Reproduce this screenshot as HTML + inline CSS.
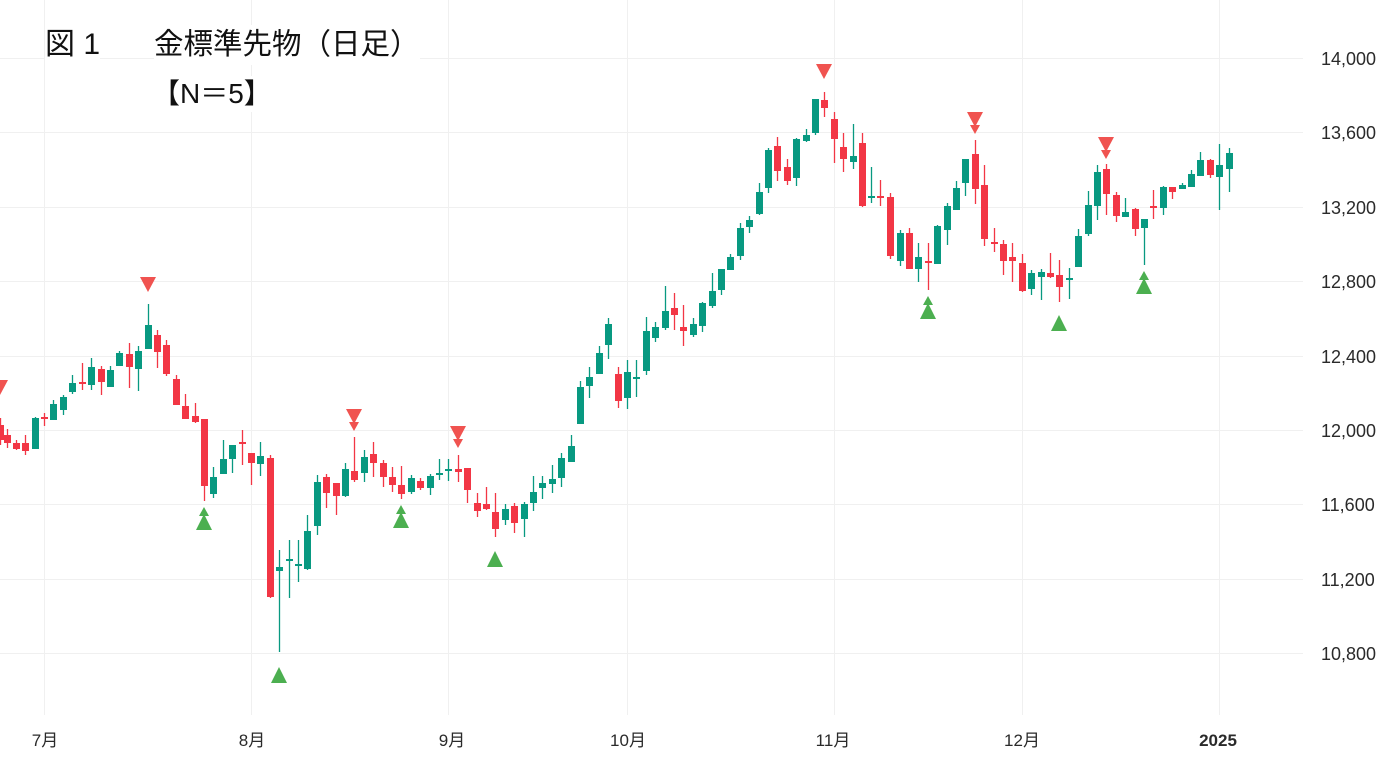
<!DOCTYPE html>
<html><head><meta charset="utf-8"><style>
html,body{margin:0;padding:0;background:#fff;width:1400px;height:761px;overflow:hidden}
svg{position:absolute;left:0;top:0}
.t{position:absolute;font-family:"Liberation Sans","Noto Sans CJK JP",sans-serif;color:#111;background:#fff;white-space:pre}
</style></head><body>
<svg id="s" width="1400" height="761" xmlns="http://www.w3.org/2000/svg">
<g stroke="#f0f0f0" stroke-width="1">
<line x1="0" y1="58.5" x2="1303" y2="58.5"/><line x1="0" y1="132.5" x2="1303" y2="132.5"/><line x1="0" y1="207.5" x2="1303" y2="207.5"/><line x1="0" y1="281.5" x2="1303" y2="281.5"/><line x1="0" y1="356.5" x2="1303" y2="356.5"/><line x1="0" y1="430.5" x2="1303" y2="430.5"/><line x1="0" y1="504.5" x2="1303" y2="504.5"/><line x1="0" y1="579.5" x2="1303" y2="579.5"/><line x1="0" y1="653.5" x2="1303" y2="653.5"/>
<line x1="44.5" y1="0" x2="44.5" y2="715"/><line x1="251.5" y1="0" x2="251.5" y2="715"/><line x1="448.5" y1="0" x2="448.5" y2="715"/><line x1="627.5" y1="0" x2="627.5" y2="715"/><line x1="834.5" y1="0" x2="834.5" y2="715"/><line x1="1022.5" y1="0" x2="1022.5" y2="715"/><line x1="1219.5" y1="0" x2="1219.5" y2="715"/>
</g>
<g font-family="Liberation Sans, DejaVu Sans, sans-serif" font-size="18" fill="#2a2a2a">
<text x="1321" y="65">14,000</text><text x="1321" y="139">13,600</text><text x="1321" y="214">13,200</text><text x="1321" y="288">12,800</text><text x="1321" y="363">12,400</text><text x="1321" y="437">12,000</text><text x="1321" y="511">11,600</text><text x="1321" y="586">11,200</text><text x="1321" y="660">10,800</text>
</g>
<g font-family="Liberation Sans, Noto Sans CJK JP, sans-serif" font-size="17" fill="#2a2a2a" text-anchor="middle">
<text x="45" y="746">7月</text><text x="252" y="746">8月</text><text x="452" y="746">9月</text><text x="628" y="746">10月</text><text x="833" y="746">11月</text><text x="1022" y="746">12月</text><text x="1218" y="746" font-weight="bold">2025</text>
</g>
<g id="c"></g>
</svg>
<div class="t" style="left:45px;top:25px;font-size:30px;line-height:40px">図 1</div>
<div class="t" style="left:154px;top:25px;font-size:29.5px;line-height:40px">金標準先物（日足）</div>
<div class="t" style="left:152px;top:76px;font-size:28px;line-height:36px">【N＝5】</div>
<script>
var d=[
[0,425,440,418,445,0],[7,435,443,429,448,0],[16,443,449,440,450,0],[25,443,451,435,455,0],[35,418,449,417,449,1],[44,417,419,413,426,0],[53,404,420,400,420,1],[63,397,410,395,415,1],[72,383,392,375,394,1],[82,382,384,363,390,0],[91,367,385,358,390,1],[101,369,382,366,395,0],[110,370,387,366,387,1],[119,353,366,351,366,1],[129,354,367,343,388,0],[138,351,369,346,391,1],[148,325,349,304,349,1],[157,335,352,330,368,0],[166,345,374,340,376,0],[176,379,405,375,405,0],[185,406,419,394,419,0],[195,416,422,403,423,0],[204,419,486,419,501,0],[213,477,494,467,498,1],[223,459,474,440,474,1],[232,445,459,445,473,1],[242,442,444,430,465,0],[251,453,463,453,485,0],[260,456,464,442,476,1],[270,458,597,455,598,0],[279,567,571,550,652,1],[289,559,561,540,598,1],[298,564,566,540,582,1],[307,531,569,515,570,1],[317,482,526,475,535,1],[326,477,493,474,508,0],[336,483,496,483,515,0],[345,469,496,463,497,1],[354,471,480,437,482,0],[364,457,473,450,482,1],[373,454,463,442,477,0],[383,463,477,460,487,0],[392,477,485,467,492,0],[401,485,494,466,499,0],[411,478,492,475,494,1],[420,481,488,478,490,0],[430,476,488,474,495,1],[439,473,475,459,480,1],[448,469,471,459,481,1],[458,469,472,455,482,0],[467,468,490,468,503,0],[477,503,511,493,517,0],[486,504,509,487,510,0],[495,512,529,493,537,0],[505,509,520,504,525,1],[514,506,523,503,533,0],[524,504,519,502,537,1],[533,492,503,476,511,1],[542,483,488,476,499,1],[552,479,484,465,493,1],[561,458,478,453,487,1],[571,446,462,435,462,1],[580,387,424,381,424,1],[589,377,386,367,398,1],[599,353,374,346,374,1],[608,324,345,318,359,1],[618,374,401,367,408,0],[627,372,398,360,409,1],[636,377,379,360,397,1],[646,331,371,317,375,1],[655,327,338,322,342,1],[665,311,328,286,330,1],[674,308,315,293,330,0],[683,327,331,305,346,0],[693,324,335,318,337,1],[702,303,326,302,332,1],[712,291,306,273,308,1],[721,269,290,269,295,1],[730,257,270,254,270,1],[740,228,256,223,260,1],[749,220,227,216,233,1],[759,192,214,183,215,1],[768,150,188,148,193,1],[777,146,171,137,181,0],[787,167,181,159,185,0],[796,139,178,138,186,1],[806,135,141,129,142,1],[815,99,133,99,135,1],[824,100,108,92,117,0],[834,119,139,112,163,0],[843,147,159,133,172,0],[853,156,162,124,169,1],[862,143,206,133,207,0],[871,196,198,167,203,1],[880,196,198,180,206,0],[890,197,256,193,259,0],[900,233,261,230,266,1],[909,233,269,228,269,0],[918,257,269,243,282,1],[928,261,263,243,290,0],[937,226,264,225,264,1],[947,206,230,203,245,1],[956,188,210,181,210,1],[965,159,183,159,196,1],[975,154,189,140,204,0],[984,185,239,165,246,0],[994,242,244,228,252,0],[1003,244,261,240,275,0],[1012,257,261,243,282,0],[1022,263,291,254,292,0],[1031,273,289,270,295,1],[1041,272,277,269,300,1],[1050,273,277,253,278,0],[1059,275,287,260,302,0],[1069,278,280,268,299,1],[1078,236,267,229,267,1],[1088,205,234,191,236,1],[1097,172,206,165,220,1],[1106,169,194,164,215,0],[1116,195,216,192,222,0],[1125,212,217,198,217,1],[1135,209,229,208,236,0],[1144,219,228,219,265,1],[1153,206,208,190,219,0],[1163,187,208,186,215,1],[1172,187,192,187,199,0],[1182,185,189,183,189,1],[1191,174,187,170,187,1],[1200,160,176,152,176,1],[1210,160,175,159,178,0],[1219,165,177,144,210,1],[1229,153,169,148,192,1]
];
var h='';
d.forEach(function(c){var col=c[5]?'#089981':'#f23645';var bh=Math.max(2,c[2]-c[1]);
h+='<line x1="'+(c[0]+.5)+'" y1="'+c[3]+'" x2="'+(c[0]+.5)+'" y2="'+c[4]+'" stroke="'+col+'" stroke-width="1.3"/>';
h+='<rect x="'+(c[0]-3)+'" y="'+c[1]+'" width="7" height="'+bh+'" fill="'+col+'"/>';});
function dn(x,y,dbl){var s='<polygon points="'+(x-8)+','+y+' '+(x+8)+','+y+' '+x+','+(y+15)+'" fill="#f05350"/>';
if(dbl)s+='<polygon points="'+(x-5)+','+(y+13)+' '+(x+5)+','+(y+13)+' '+x+','+(y+22)+'" fill="#f05350"/>';return s;}
function up(x,y,dbl){var s='<polygon points="'+(x-8)+','+y+' '+(x+8)+','+y+' '+x+','+(y-16)+'" fill="#4caf50"/>';
if(dbl)s+='<polygon points="'+(x-5)+','+(y-14)+' '+(x+5)+','+(y-14)+' '+x+','+(y-23)+'" fill="#4caf50"/>';return s;}
h+=dn(148,277,0)+dn(354,409,1)+dn(458,426,1)+dn(824,64,0)+dn(975,112,1)+dn(1106,137,1)+dn(0,380,0);
h+=up(204,530,1)+up(279,683,0)+up(401,528,1)+up(495,567,0)+up(928,319,1)+up(1059,331,0)+up(1144,294,1);
document.getElementById('c').innerHTML=h;
</script>
</body></html>
